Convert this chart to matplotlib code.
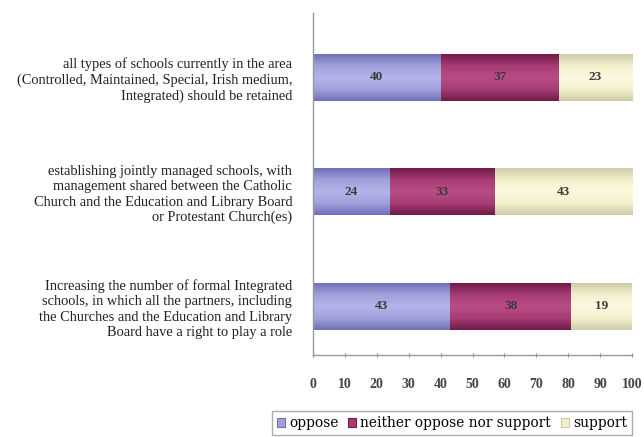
import matplotlib
matplotlib.use("Agg")
import matplotlib.pyplot as plt
import numpy as np
from matplotlib.colors import LinearSegmentedColormap
from matplotlib.patches import Patch

categories = [
    "all types of schools currently in the area\n(Controlled, Maintained, Special, Irish medium,\nIntegrated) should be retained",
    "establishing jointly managed schools, with\nmanagement shared between the Catholic\nChurch and the Education and Library Board\nor Protestant Church(es)",
    "Increasing the number of formal Integrated\nschools, in which all the partners, including\nthe Churches and the Education and Library\nBoard have a right to play a role",
]
series_names = ["oppose", "neither oppose nor support", "support"]
oppose = [40, 24, 43]
neither = [37, 33, 38]
support = [23, 43, 19]
xticks = [0, 10, 20, 30, 40, 50, 60, 70, 80, 90, 100]

colors = ["#a0a0dc", "#a83c74", "#f2f0cc"]
edge_dark = ["#7070b8", "#6e1c48", "#cfcca8"]
center_light = ["#b4b4ea", "#b84c84", "#fbfae0"]

plt.rcParams['font.family'] = ['Liberation Serif', 'DejaVu Serif']

fig = plt.figure(figsize=(6.44, 4.37), dpi=100)
ax = fig.add_axes([313/644, 1-355/437, (632-313)/644, (355-13)/437])

y = np.arange(len(categories))
left = np.zeros(len(categories))
grad = np.concatenate([np.linspace(0, 1, 50), np.linspace(1, 0, 50)])[:, None]
for vals, name, c, ed, cl in zip([oppose, neither, support], series_names,
                                 colors, edge_dark, center_light):
    bars = ax.barh(y, vals, left=left, height=0.41, color=c, label=name,
                   edgecolor='none')
    cmap = LinearSegmentedColormap.from_list(name, [ed, c, cl])
    for b in bars:
        x0, y0 = b.get_x(), b.get_y()
        w, h = b.get_width(), b.get_height()
        im = ax.imshow(grad, cmap=cmap, aspect='auto',
                       extent=[x0, x0 + w, y0 + h, y0], zorder=b.get_zorder(),
                       interpolation='bilinear')
        im.set_clip_path(b)
    for yi, v, l in zip(y, vals, left):
        ax.text(l + v/2, yi, str(v), ha='center', va='center',
                fontsize=9.5, fontweight='bold', color='#3a3a3a', zorder=5)
    left = left + np.array(vals)

ax.set_ylim(2.424, -0.563)
ax.set_xlim(0, 100)
ax.set_xticks(xticks)
ax.set_xticklabels([str(t) for t in xticks], fontsize=10, fontweight='bold', color='#444444')
ax.set_yticks(y)
ax.set_yticklabels(categories, fontsize=10.4, color='#222222', linespacing=1.22)
ax.tick_params(axis='y', length=0, pad=15)
ax.tick_params(axis='x', length=3, color='#888888', pad=15, direction='inout')
for s in ['top', 'right']:
    ax.spines[s].set_visible(False)
for s in ['left', 'bottom']:
    ax.spines[s].set_color('#999999')
    ax.spines[s].set_linewidth(1.0)

handles = [Patch(facecolor=c, edgecolor=e, linewidth=0.8) for c, e in zip(colors, edge_dark)]
leg = fig.legend(handles, series_names, loc='lower right',
                 bbox_to_anchor=(632/644, 1-435/437), ncol=3,
                 prop={'family': 'DejaVu Serif', 'size': 9.9},
                 frameon=True, fancybox=False, edgecolor='#999999',
                 handlelength=0.6, handleheight=0.6, handletextpad=0.3,
                 columnspacing=0.7, borderpad=0.35, borderaxespad=0)
leg.get_frame().set_linewidth(1.0)

fig.savefig("out.png", dpi=100)
